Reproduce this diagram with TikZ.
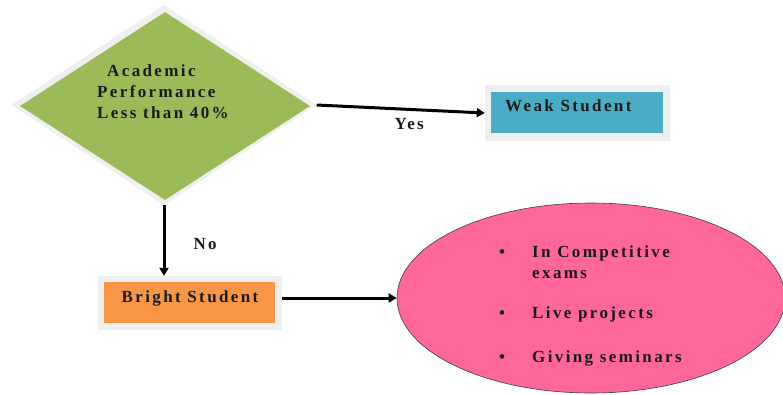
\documentclass[tikz,border=0pt]{standalone}
\usepackage{fontspec}
\setmainfont{Liberation Serif}
\newfontfamily\lblfont[LetterSpace=14]{Liberation Serif}
\usetikzlibrary{shapes.geometric,arrows.meta}
\definecolor{dgreen}{HTML}{9BBB59}
\definecolor{wteal}{HTML}{4BACC6}
\definecolor{borange}{HTML}{F79646}
\definecolor{epink}{HTML}{FF6699}
\definecolor{framegray}{HTML}{EFEFEF}
\definecolor{txt}{HTML}{1A1A1A}
\begin{document}
\begin{tikzpicture}[x=1pt,y=-1pt,
  lbl/.style={font=\lblfont\bfseries\fontsize{17}{21}\selectfont, text=txt, inner sep=0, align=left},
  framebox/.style={fill=framegray, draw=none, inner sep=0},
  conn/.style={line width=3pt, -{Triangle[length=8pt,width=9pt]}},
]
\useasboundingbox (0,0) rectangle (783,394);
% decision diamond
\node[diamond, framebox, minimum width=305, minimum height=200] (dframe) at (164,105) {};
\node[diamond, fill=dgreen, draw=none, inner sep=0, minimum width=290, minimum height=188] (d) at (165,106) {};
\node[lbl, anchor=base west] (dtext) at (97,118) {\hspace{10pt}Academic\\Performance\\Less than 40\%};
% weak student
\node[framebox, minimum width=185, minimum height=56] (wframe) at (577.5,113) {};
\node[fill=wteal, draw=none, inner sep=0, minimum width=172, minimum height=41] (w) at (577,112.5) {};
\node[lbl, anchor=base west] (wtext) at (505,111) {Weak Student};
% bright student
\node[framebox, minimum width=184, minimum height=54] (bframe) at (190,303) {};
\node[fill=borange, draw=none, inner sep=0, minimum width=171, minimum height=41] (b) at (189.5,302.5) {};
\node[lbl, anchor=base] (btext) at (190,302) {Bright Student};
% ellipse
\node[ellipse, fill=epink, draw=black!75, line width=0.6pt, minimum width=388, minimum height=190] (e) at (591,298) {};
\node[lbl, anchor=base west] (e1) at (499,278) {\makebox[33pt][l]{\textbullet}In Competitive\\\hspace{33pt}exams};
\node[lbl, anchor=base west] (e2) at (499,318) {\makebox[33pt][l]{\textbullet}Live projects};
\node[lbl, anchor=base west] (e3) at (499,362) {\makebox[33pt][l]{\textbullet}Giving seminars};
% connectors
\draw[conn] (dframe.east) -- node[lbl, below=7pt, pos=0.55] (yes) {Yes} (wframe.west);
\draw[conn] (dframe.south) -- node[lbl, right=28pt, pos=0.55] (no) {No} (bframe.north -| dframe.south);
\draw[conn] (bframe.east |- e.west) -- (e.west);
\end{tikzpicture}
\end{document}
